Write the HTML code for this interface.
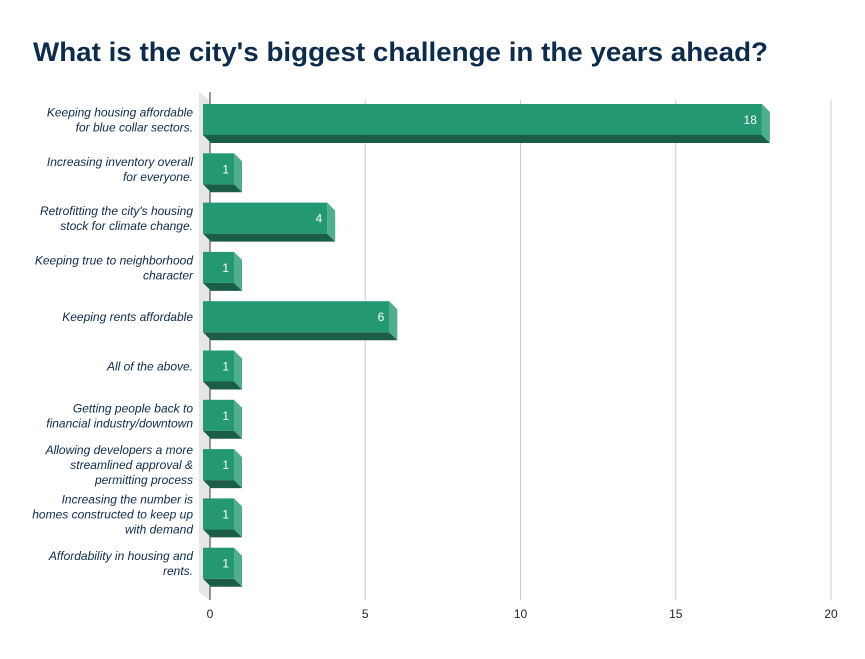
<!DOCTYPE html>
<html><head><meta charset="utf-8"><style>
body{margin:0;background:#fff;font-family:"Liberation Sans",sans-serif}
</style></head><body>
<svg width="865" height="654" xmlns="http://www.w3.org/2000/svg">
<rect width="865" height="654" fill="#fff"/>
<text x="33" y="61" font-size="27" textLength="735" lengthAdjust="spacingAndGlyphs" font-weight="bold" fill="#0d2b4b" font-family="Liberation Sans, sans-serif">What is the city's biggest challenge in the years ahead?</text>
<g id="grid"></g><g id="bars"></g><g id="labels"></g>
</svg>
<script>
const categories=[["Keeping housing affordable","for blue collar sectors."],["Increasing inventory overall","for everyone."],["Retrofitting the city's housing","stock for climate change."],["Keeping true to neighborhood","character"],["Keeping rents affordable"],["All of the above."],["Getting people back to","financial industry/downtown"],["Allowing developers a more","streamlined approval &","permitting process"],["Increasing the number is","homes constructed to keep up","with demand"],["Affordability in housing and","rents."]];
const values=[18,1,4,1,6,1,1,1,1,1];
const ticks=[0,5,10,15,20];
const NS="http://www.w3.org/2000/svg";
const grid=document.getElementById('grid'),bars=document.getElementById('bars'),labels=document.getElementById('labels');
const x0=210,xs=(831-210)/20,d=8;
const yc=i=>120+i*49.3;
function mk(p,tag,a){const e=document.createElementNS(NS,tag);for(const k in a)e.setAttribute(k,a[k]);p.appendChild(e);return e;}
let wall=mk(grid,'polygon',{points:`199,92 ${x0},100 ${x0},600 199,592`,fill:'#e6e6e6'});


ticks.forEach(t=>{const x=x0+t*xs;
 if(t>0){const g=mk(grid,'line',{x1:x,x2:x,y1:100,y2:600,stroke:'#cccccc','stroke-width':1});
 
 }
 const tl=mk(labels,'text',{x:x,y:618,'font-size':12,'text-anchor':'middle',fill:'#222'});tl.textContent=t;
 
 });
const ax=mk(grid,'line',{x1:x0,x2:x0,y1:92,y2:600,stroke:'#333','stroke-width':1});


values.forEach((v,i)=>{const top=yc(i)-16,h=31,L=203,R=203+v*xs;
 const g=mk(bars,'g',{});
 
 
 mk(g,'polygon',{points:`${L},${top+h} ${R},${top+h} ${R+d},${top+h+d} ${L+d},${top+h+d}`,fill:'#1b5e45'});
 mk(g,'polygon',{points:`${R},${top} ${R+d},${top+d} ${R+d},${top+h+d} ${R},${top+h}`,fill:'#4fae8c'});
 mk(g,'rect',{x:L,y:top,width:R-L,height:h,fill:'#239872'});
 const t=mk(g,'text',{x:R-5,y:top+20,'font-size':12,'text-anchor':'end',fill:'#fff'});t.textContent=v;
 
 
 const lines=categories[i],n=lines.length;
 lines.forEach((s,j)=>{const c=mk(labels,'text',{x:193,y:yc(i)+4+(j-(n-1)/2)*15,'font-size':12,'font-style':'italic','text-anchor':'end',fill:'#0d2b4b'});c.textContent=s;
  
  });
});
</script>
</body></html>
